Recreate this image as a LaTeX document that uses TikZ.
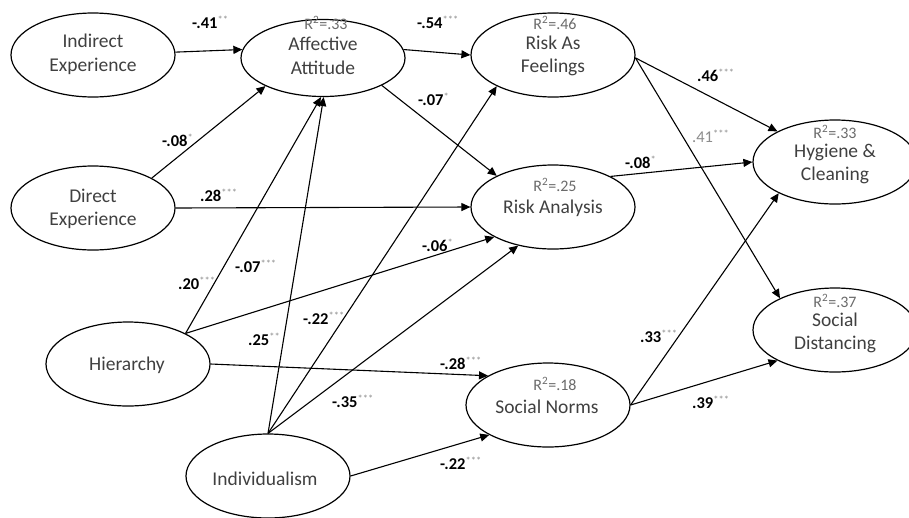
\documentclass[tikz,border=0pt]{standalone}
\usepackage{fontspec}
\setmainfont{Carlito}
\usetikzlibrary{shapes.geometric,arrows.meta}
\definecolor{nodetext}{gray}{0.25}
\definecolor{rtgray}{gray}{0.42}
\definecolor{stargray}{gray}{0.55}
\newcommand{\rtwo}[1]{{\color{rtgray}R\textsuperscript{2}=#1}}
\newcommand{\coef}[2]{\textbf{#1}{\color{stargray}\fontsize{10.5}{10.5}\selectfont\raisebox{5pt}{#2}}}
\begin{document}
\begin{tikzpicture}[x=1pt,y=-1pt,
  ell/.style={draw, ellipse, line width=1.2pt, minimum width=164pt, minimum height=84pt, inner sep=0pt},
  ntext/.style={align=center, font=\fontsize{19.5}{23.5}\selectfont, text=nodetext, inner sep=0pt},
  rlab/.style={inner sep=0pt, font=\fontsize{16}{16}\selectfont},
  clab/.style={anchor=base west, inner sep=0pt, font=\fontsize{16.5}{16.5}\selectfont},
  arr/.style={line width=1.1pt, -{Triangle[length=9pt,width=8pt]}}]
\fill[white] (0,0) rectangle (909,517);
\useasboundingbox (0,0) rectangle (909,517);

% ellipses
\node[ell] (ie)  at (93,55)  {};
\node[ell, minimum height=77pt] (aff) at (323,58) {};
\node[ell] (de)  at (93,208) {};
\node[ell] (raf) at (553,55) {};
\node[ell] (ra)  at (553,207) {};
\node[ell] (hyg) at (835,162) {};
\node[ell] (sd)  at (835,330) {};
\node[ell] (sn)  at (548,405) {};
\node[ell] (hi)  at (128,364) {};
\node[ell] (ind) at (268,476) {};

% texts
\node[ntext] (iet)  at (93,54.5)  {Indirect\\Experience};
\node[ntext] (afft) at (323,56)   {Affective\\Attitude};
\node[rlab]  (affr) at (326,23)   {\rtwo{.33}};
\node[ntext] (det)  at (93,209)   {Direct\\Experience};
\node[ntext] (raft) at (553,56)   {Risk As\\Feelings};
\node[rlab]  (rafr) at (555,23)   {\rtwo{.46}};
\node[ntext] (rat)  at (553,208)  {Risk Analysis};
\node[rlab]  (rar)  at (555,185)  {\rtwo{.25}};
\node[ntext] (hygt) at (835,164)  {Hygiene \&\\Cleaning};
\node[rlab]  (hygr) at (835,132)  {\rtwo{.33}};
\node[ntext] (sdt)  at (835,333)  {Social\\Distancing};
\node[rlab]  (sdr)  at (835,301)  {\rtwo{.37}};
\node[ntext] (snt)  at (547,407)  {Social Norms};
\node[rlab]  (snr)  at (555,384)  {\rtwo{.18}};
\node[ntext] (hit)  at (127,365)  {Hierarchy};
\node[ntext] (indt) at (265,479)  {Individualism};

% connectors
\draw[arr] (ie.2) -- (aff.174);
\draw[arr] (aff.6) -- (raf.180);
\draw[arr] (de.27) -- (aff.206);
\draw[arr] (de.0) -- (ra.180);
\draw[arr] (aff.-25) -- (ra.151);
\draw[arr] (hi.28) -- (aff.-93);
\draw[arr] (hi.28) -- (ra.207);
\draw[arr] (hi.0) -- (sn.154);
\draw[arr] (ind.north) -- (aff.-89);
\draw[arr] (ind.north) -- (raf.209);
\draw[arr] (ind.north) -- (ra.228);
\draw[arr] (ind.0) -- (sn.207);
\draw[arr] (raf.-2) -- (hyg.152);
\draw[arr] (raf.-2) -- (sd.150);
\draw[arr] (ra.28) -- (hyg.180);
\draw[arr] (sn.0) -- (hyg.209);
\draw[arr] (sn.0) -- (sd.208);

% coefficient labels
\node[clab] (c1)  at (192,28)  {\coef{-.41}{**}};
\node[clab] (c2)  at (417,28)  {\coef{-.54}{***}};
\node[clab] (c3)  at (162,146) {\coef{-.08}{*}};
\node[clab] (c4)  at (200,201) {\coef{.28}{***}};
\node[clab] (c5)  at (418,105) {\coef{-.07}{*}};
\node[clab] (c6)  at (422,251) {\coef{-.06}{*}};
\node[clab] (c7)  at (178,289) {\coef{.20}{***}};
\node[clab] (c8)  at (235,272) {\coef{-.07}{***}};
\node[clab] (c9)  at (248,345) {\coef{.25}{**}};
\node[clab] (c10) at (303,324) {\coef{-.22}{***}};
\node[clab] (c11) at (332,407) {\coef{-.35}{***}};
\node[clab] (c12) at (440,369) {\coef{-.28}{***}};
\node[clab] (c13) at (440,469) {\coef{-.22}{***}};
\node[clab] (c14) at (697,81)  {\coef{.46}{***}};
\node[clab, text=stargray] (c15) at (692,142) {.41{\fontsize{10.5}{10.5}\selectfont\raisebox{5pt}{***}}};
\node[clab] (c16) at (625,168) {\coef{-.08}{*}};
\node[clab] (c17) at (640,342) {\coef{.33}{***}};
\node[clab] (c18) at (692,408) {\coef{.39}{***}};
\end{tikzpicture}
\end{document}
